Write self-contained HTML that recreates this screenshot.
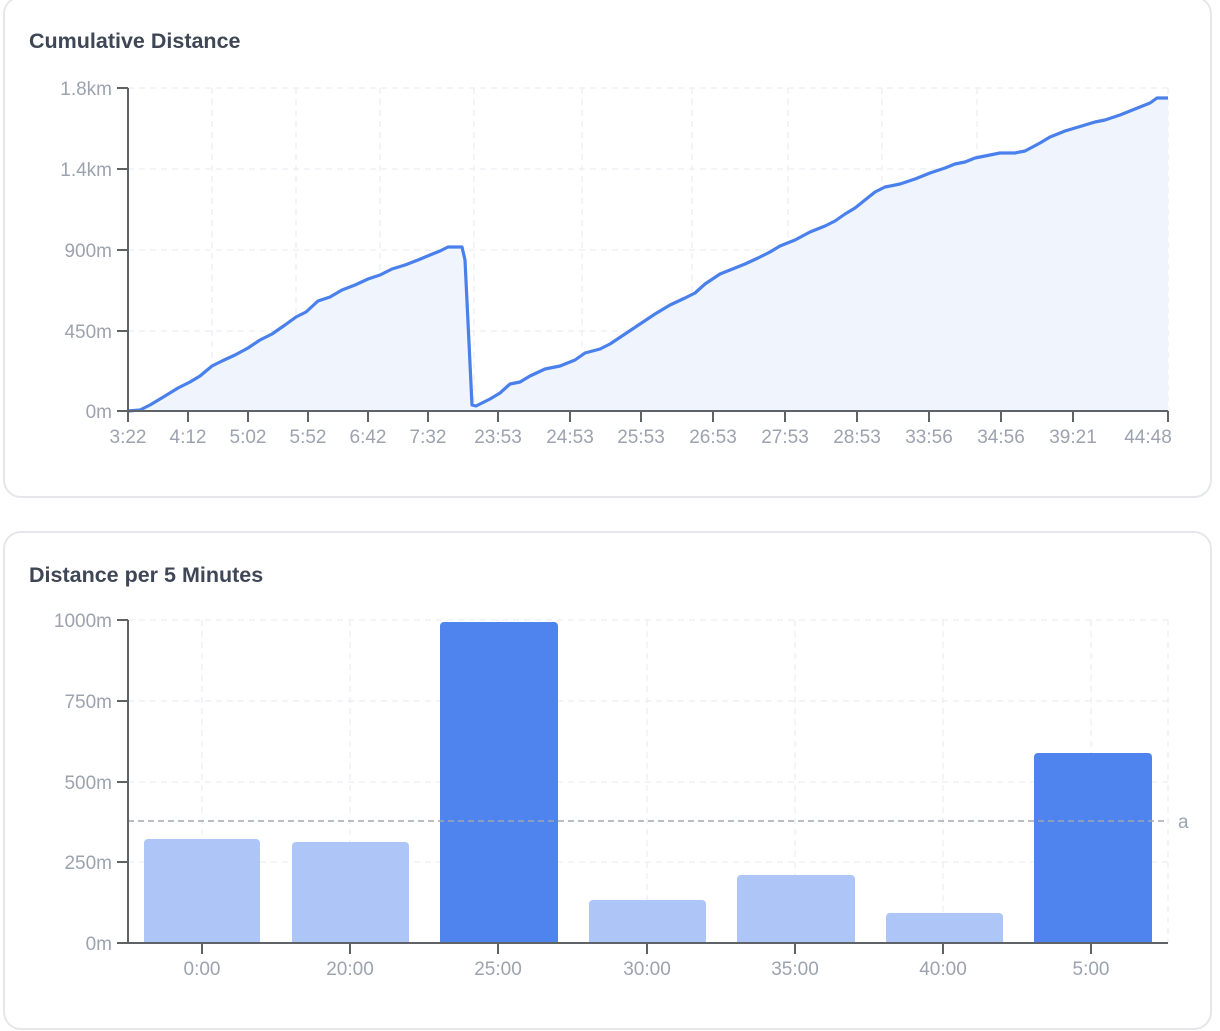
<!DOCTYPE html><html><head><style>
body{margin:0;width:1220px;height:1031px;background:#fff;font-family:"Liberation Sans",sans-serif;overflow:hidden}
.card{position:absolute;left:3px;width:1205px;border:2px solid #e5e7eb;border-radius:18px;background:#fff}
.t{position:absolute;left:24px;font-size:21.5px;font-weight:bold;color:#3f4756}
svg{position:absolute;left:0;top:0}
text{font-family:"Liberation Sans",sans-serif;font-size:19px;fill:#9ca3af}
</style></head><body>
<div class="card" style="top:-4px;height:498px"><div class="t" style="top:31px">Cumulative Distance</div></div>
<div class="card" style="top:531px;height:495px"><div class="t" style="top:30px">Distance per 5 Minutes</div></div>
<svg width="1220" height="1031">
<g stroke="#eceef2" stroke-dasharray="6,5" stroke-width="1.3">
<line x1="128" x2="1168" y1="88" y2="88"/><line x1="128" x2="1168" y1="169" y2="169"/><line x1="128" x2="1168" y1="250" y2="250"/><line x1="128" x2="1168" y1="331" y2="331"/>
<line x1="212" x2="212" y1="88" y2="411"/><line x1="296" x2="296" y1="88" y2="411"/><line x1="380" x2="380" y1="88" y2="411"/><line x1="474" x2="474" y1="88" y2="411"/><line x1="582" x2="582" y1="88" y2="411"/><line x1="692" x2="692" y1="88" y2="411"/><line x1="788" x2="788" y1="88" y2="411"/><line x1="882" x2="882" y1="88" y2="411"/><line x1="977" x2="977" y1="88" y2="411"/><line x1="1168" x2="1168" y1="88" y2="411"/>
<line x1="128" x2="1168" y1="620" y2="620"/><line x1="128" x2="1168" y1="701" y2="701"/><line x1="128" x2="1168" y1="782" y2="782"/><line x1="128" x2="1168" y1="862" y2="862"/>
<line x1="202" x2="202" y1="620" y2="943"/><line x1="350" x2="350" y1="620" y2="943"/><line x1="498" x2="498" y1="620" y2="943"/><line x1="647" x2="647" y1="620" y2="943"/><line x1="795" x2="795" y1="620" y2="943"/><line x1="943" x2="943" y1="620" y2="943"/><line x1="1091" x2="1091" y1="620" y2="943"/><line x1="1168" x2="1168" y1="620" y2="943"/>
</g>
<polygon fill="#eff4fd" points="128,411 140,410 150,405 165,396 178,388 190,382 200,376 212,366 222,361 235,355 248,348 260,340 272,334 285,325 296,317 306,312 318,301 330,297 342,290 355,285 368,279 380,275 392,269 405,265 418,260 430,255 440,251 448,247 462,247 465,260 472,405 476,406 490,399 500,393 510,384 520,382 530,376 545,369 560,366 575,360 585,353 600,349 610,344 625,334 640,324 655,314 670,305 685,298 695,293 705,284 720,274 735,268 745,264 758,258 770,252 780,246 795,240 810,232 825,226 835,221 845,214 855,208 865,200 875,192 885,187 900,184 915,179 930,173 945,168 955,164 965,162 975,158 990,155 1000,153 1015,153 1025,151 1040,143 1050,137 1065,131 1075,128 1085,125 1095,122 1105,120 1120,115 1130,111 1140,107 1150,103 1157,98 1168,98 1168,411"/>
<polyline fill="none" stroke="#4a80ec" stroke-width="3.2" stroke-linejoin="round" points="128,411 140,410 150,405 165,396 178,388 190,382 200,376 212,366 222,361 235,355 248,348 260,340 272,334 285,325 296,317 306,312 318,301 330,297 342,290 355,285 368,279 380,275 392,269 405,265 418,260 430,255 440,251 448,247 462,247 465,260 472,405 476,406 490,399 500,393 510,384 520,382 530,376 545,369 560,366 575,360 585,353 600,349 610,344 625,334 640,324 655,314 670,305 685,298 695,293 705,284 720,274 735,268 745,264 758,258 770,252 780,246 795,240 810,232 825,226 835,221 845,214 855,208 865,200 875,192 885,187 900,184 915,179 930,173 945,168 955,164 965,162 975,158 990,155 1000,153 1015,153 1025,151 1040,143 1050,137 1065,131 1075,128 1085,125 1095,122 1105,120 1120,115 1130,111 1140,107 1150,103 1157,98 1168,98"/>
<g stroke="#5f6368" stroke-width="2" fill="none">
<path d="M128 88V411H1168"/><path d="M117 88H128M117 169H128M117 250H128M117 331H128M117 411H128"/>
<path d="M128 411v11M188 411v11M248 411v11M308 411v11M368 411v11M428 411v11M498 411v11M570 411v11M641 411v11M713 411v11M785 411v11M857 411v11M929 411v11M1001 411v11M1073 411v11M1168 411v11"/>
</g>
<g text-anchor="end"><text x="112" y="95">1.8km</text><text x="112" y="176">1.4km</text><text x="112" y="257">900m</text><text x="112" y="338">450m</text><text x="112" y="418">0m</text></g>
<g text-anchor="middle"><text x="128" y="443">3:22</text><text x="188" y="443">4:12</text><text x="248" y="443">5:02</text><text x="308" y="443">5:52</text><text x="368" y="443">6:42</text><text x="428" y="443">7:32</text><text x="498" y="443">23:53</text><text x="570" y="443">24:53</text><text x="641" y="443">25:53</text><text x="713" y="443">26:53</text><text x="785" y="443">27:53</text><text x="857" y="443">28:53</text><text x="929" y="443">33:56</text><text x="1001" y="443">34:56</text><text x="1073" y="443">39:21</text><text x="1148" y="443">44:48</text></g>
<g fill="#aec6f7"><path d="M144 943V843a4 4 0 0 1 4-4H256a4 4 0 0 1 4 4V943z"/><path d="M292 943V846a4 4 0 0 1 4-4H405a4 4 0 0 1 4 4V943z"/><path d="M589 943V904a4 4 0 0 1 4-4H702a4 4 0 0 1 4 4V943z"/><path d="M737 943V879a4 4 0 0 1 4-4H851a4 4 0 0 1 4 4V943z"/><path d="M886 943V917a4 4 0 0 1 4-4H999a4 4 0 0 1 4 4V943z"/></g>
<g fill="#4f84ee"><path d="M440 943V626a4 4 0 0 1 4-4H554a4 4 0 0 1 4 4V943z"/><path d="M1034 943V757a4 4 0 0 1 4-4H1148a4 4 0 0 1 4 4V943z"/></g>
<line x1="128" x2="1168" y1="821" y2="821" stroke="#a3a7ae" stroke-width="1.6" stroke-dasharray="6,4"/>
<text x="1178" y="828">a</text>
<g stroke="#5f6368" stroke-width="2" fill="none">
<path d="M128 620V943H1168"/><path d="M117 620H128M117 701H128M117 782H128M117 862H128M117 943H128"/>
<path d="M202 943v11M350 943v11M498 943v11M647 943v11M795 943v11M943 943v11M1091 943v11"/>
</g>
<g text-anchor="end"><text x="112" y="627">1000m</text><text x="112" y="708">750m</text><text x="112" y="789">500m</text><text x="112" y="869">250m</text><text x="112" y="950">0m</text></g>
<g text-anchor="middle"><text x="202" y="975">0:00</text><text x="350" y="975">20:00</text><text x="498" y="975">25:00</text><text x="647" y="975">30:00</text><text x="795" y="975">35:00</text><text x="943" y="975">40:00</text><text x="1091" y="975">5:00</text></g>
</svg>
</body></html>
